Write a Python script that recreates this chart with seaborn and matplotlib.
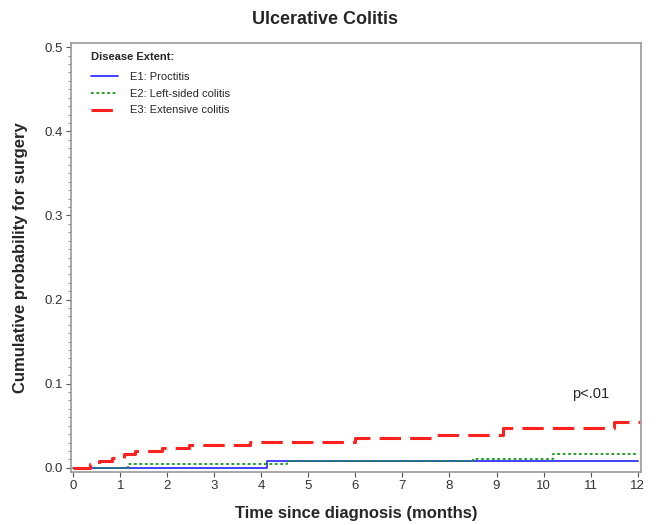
import seaborn as sns
import matplotlib.pyplot as plt
import pandas as pd
from matplotlib.ticker import MultipleLocator

# step curves (months, cumulative probability)
e1_time = [0, 4.12, 12.0]
e1_prob = [0.0, 0.008, 0.008]

e2_time = [0, 1.17, 4.55, 8.51, 10.21, 12.0]
e2_prob = [0.0, 0.004, 0.0075, 0.011, 0.0166, 0.0166]

e3_time = [0, 0.36, 0.54, 0.82, 1.07, 1.32, 1.89, 2.47, 3.75, 6.0, 7.72, 9.14, 11.49, 12.04]
e3_prob = [0.0, 0.0044, 0.0075, 0.0115, 0.016, 0.020, 0.023, 0.027, 0.031, 0.035, 0.039, 0.047, 0.055, 0.055]

labels = ['E1: Proctitis', 'E2: Left-sided colitis', 'E3: Extensive colitis']

df = pd.concat([
    pd.DataFrame({'time': e1_time, 'prob': e1_prob, 'group': labels[0]}),
    pd.DataFrame({'time': e2_time, 'prob': e2_prob, 'group': labels[1]}),
    pd.DataFrame({'time': e3_time, 'prob': e3_prob, 'group': labels[2]}),
])

sns.set_theme(style="white")
plt.rcParams['font.family'] = ['Liberation Sans', 'DejaVu Sans']

fig = plt.figure(figsize=(6.56, 5.25), dpi=100)
ax = fig.add_axes([0.108, 0.101, 0.869, 0.817])

palette = {labels[0]: '#3333ff', labels[1]: '#119911', labels[2]: '#ff2020'}
styles = {labels[0]: None, labels[1]: (1.5, 1.5), labels[2]: (7, 3)}
widths = {labels[0]: 1.3, labels[1]: 1.3, labels[2]: 2.2}

for g in labels:
    sub = df[df['group'] == g]
    sns.lineplot(data=sub, x='time', y='prob', color=palette[g], label=g,
                 drawstyle='steps-post', estimator=None, ax=ax, lw=widths[g])
    if styles[g] is not None:
        ax.lines[-1].set_dashes(styles[g])

ax.set_xlim(-0.05, 12.07)
ax.set_ylim(-0.005, 0.505)
ax.xaxis.set_major_locator(MultipleLocator(1))
ax.yaxis.set_major_locator(MultipleLocator(0.1))
ax.yaxis.set_minor_locator(MultipleLocator(0.01))
ax.yaxis.set_major_formatter(plt.FuncFormatter(lambda v, p: f'{v:.1f}'))
ax.tick_params(axis='both', which='major', direction='out', length=3.5, width=0.8, pad=2,
               color='#555555', labelsize=9.5, labelcolor='#333333', left=True, bottom=True)
ax.tick_params(axis='y', which='minor', direction='out', length=2, width=0.6,
               color='#777777', left=True)

for s in ax.spines.values():
    s.set_color('#999999')
    s.set_linewidth(1.2)

ax.set_xlabel('Time since diagnosis (months)', fontsize=12, fontweight='bold', labelpad=10)
ax.set_ylabel('Cumulative probability for surgery', fontsize=12, fontweight='bold', labelpad=12)
fig.text(0.496, 0.963, 'Ulcerative Colitis', fontsize=13, fontweight='bold', ha='center', va='center')

leg = ax.legend(title='Disease Extent:', loc='upper left', frameon=False, fontsize=8,
                title_fontsize=8, handlelength=2.4, handletextpad=1.1, borderaxespad=0.4,
                labelspacing=0.62, bbox_to_anchor=(0.02, 1.0))
leg.get_title().set_fontweight('bold')
leg._legend_box.align = 'left'
leg._legend_box.sep = 7

ax.text(10.6, 0.088, 'p<.01', fontsize=10.5, ha='left', va='center')

plt.savefig('out.png', dpi=100)
